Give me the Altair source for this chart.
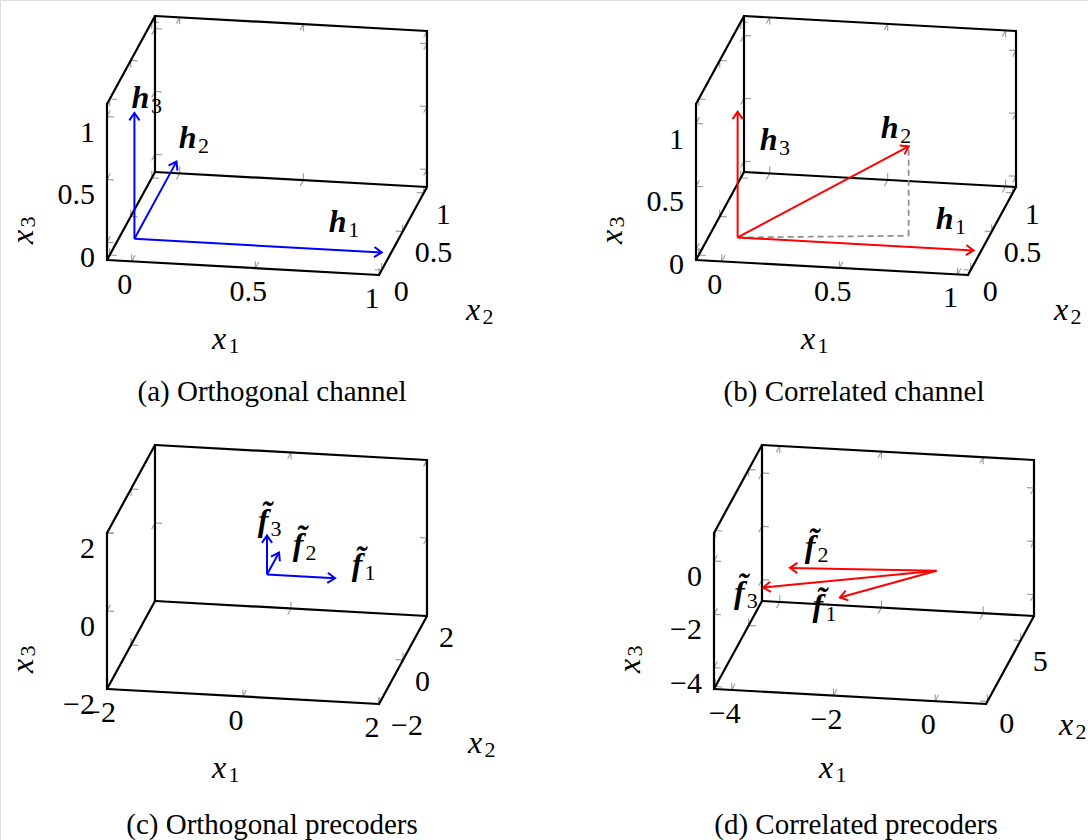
import numpy as np
import pandas as pd
import altair as alt

W, H = 1088, 840

# ---- 3D box geometry: screen direction of each axis edge and the front-bottom-left corner
EDGE = np.array([[272.0, 15.0], [48.0, -88.0], [0.0, -156.0]])
PANELS = ["a", "b", "c", "d"]
BOX_ORIGIN = {"a": (107, 260), "b": (696, 260), "c": (107, 689), "d": (714, 689)}

# ---- axis limits and ticks
X1_LIM = {"a": (-0.10, 1.00), "b": (-0.109, 1.044), "c": (-2.0, 2.0), "d": (-4.35, 1.0)}
X2_LIM = {"a": (-0.064, 1.076), "b": (-0.064, 1.076), "c": (-2.0, 2.0), "d": (-0.2, 7.0)}
X3_LIM = {"a": (-0.14, 1.10), "b": (-0.085, 1.155), "c": (-2.0, 2.0), "d": (-4.8, 1.05)}

X1_TICKS = {"a": [0, 0.5, 1], "b": [0, 0.5, 1], "c": [-2, 0, 2], "d": [-4, -2, 0]}
X2_TICKS = {"a": [0, 0.5, 1], "b": [0, 0.5, 1], "c": [-2, 0, 2], "d": [0, 5]}
X3_TICKS = {"a": [0, 0.5, 1], "b": [0, 0.5, 1], "c": [-2, 0, 2], "d": [-4, -2, 0]}

CAPTIONS = {"a": "(a) Orthogonal channel", "b": "(b) Correlated channel",
            "c": "(c) Orthogonal precoders", "d": "(d) Correlated precoders"}
CAPTION_POS = {"a": (272, 392), "b": (854, 392), "c": (272, 825), "d": (856, 825)}
X2_TITLE_SHIFT = {"a": (70, 79), "b": (69, 79), "c": (72, 83), "d": (56, 65)}

# ---- vectors (tail + components)
VEC_PANEL = ["a", "a", "a", "b", "b", "b", "c", "c", "c", "d", "d", "d"]
VEC_SYMBOL = ["h", "h", "h", "h", "h", "h", "f\u0303", "f\u0303", "f\u0303", "f\u0303", "f\u0303", "f\u0303"]
VEC_INDEX = ["1", "2", "3", "1", "2", "3", "1", "2", "3", "1", "2", "3"]
TAIL_X1 = [0, 0, 0, 0.056, 0.056, 0.056, 0, 0, 0, 0, 0, 0]
TAIL_X2 = [0, 0, 0, 0, 0, 0, 0, 0, 0, 0, 0, 0]
TAIL_X3 = [0, 0, 0, 0.072, 0.072, 0.072, 0, 0, 0, 0, 0, 0]
VEC_X1 = [1, 0, 0, 1.0, 0.70, 0, 1, 0, 0, -1.9, -3.8, -4.3]
VEC_X2 = [0, 1, 0, 0.0, 0.14, 0, 0, 1, 0, 0.0, 7.0, 6.8]
VEC_X3 = [0, 0, 1, 0.0, 0.71, 1, 0, 0, 1, -1.2, -3.5, -4.2]
VEC_COLOR = ["#0000ff"] * 3 + ["#ff0000"] * 3 + ["#0000ff"] * 3 + ["#ff0000"] * 3
# label placement relative to the arrow tip (pixels)
LABEL_DX = [-44, 11, 6, -29, -19, 31, 22, 19, -4, -22, 20, -24]
LABEL_DY = [-30, -24, -15, -31, -18, 28, -13, -8, -15, 9, -21, 5]

SERIF = "Liberation Serif"
TICK_FONT = 30
GRAY = "#999999"


def lims(p):
    return [X1_LIM[p], X2_LIM[p], X3_LIM[p]]


def proj(p, pt):
    s = np.array(BOX_ORIGIN[p], float)
    for i, (lo, hi) in enumerate(lims(p)):
        s = s + (pt[i] - lo) / (hi - lo) * EDGE[i]
    return s


def fmt(v):
    return ("%g" % v).replace("-", "\u2212")


# box edges that belong to the three back planes (floor, left wall, back wall)
EDGE_SIDES = {0: [(0, 0), (1, 0), (1, 1)], 1: [(0, 0), (1, 0), (0, 1)], 2: [(0, 0), (0, 1), (1, 1)]}

edge_rows, tick_rows = [], []
lab_rows = {"center": [], "left": [], "right": []}
title_rows, sub_rows, title_rot, sub_rot = [], [], [], []
for p in PANELS:
    L = lims(p)
    ticks = [X1_TICKS[p], X2_TICKS[p], X3_TICKS[p]]
    for ax in range(3):
        others = [b for b in range(3) if b != ax]
        for sides in EDGE_SIDES[ax]:
            a = [0, 0, 0]
            b = [0, 0, 0]
            for o, sd in zip(others, sides):
                a[o] = L[o][sd]
                b[o] = L[o][sd]
            a[ax], b[ax] = L[ax]
            pa, pb = proj(p, a), proj(p, b)
            edge_rows.append(dict(x=pa[0], y=pa[1], x2=pb[0], y2=pb[1]))
            for t in ticks[ax]:
                pt = list(a)
                pt[ax] = t
                s = proj(p, pt)
                for o, sd in zip(others, sides):
                    d = EDGE[o] / np.linalg.norm(EDGE[o]) * (1 if sd == 0 else -1)
                    e = s + 7 * d
                    tick_rows.append(dict(x=s[0], y=s[1], x2=e[0], y2=e[1]))
    for t in X1_TICKS[p]:
        s = proj(p, [t, L[1][0], L[2][0]])
        lab_rows["center"].append(dict(x=s[0] - 7, y=s[1] + 24, text=fmt(t)))
    for t in X2_TICKS[p]:
        s = proj(p, [L[0][1], t, L[2][0]])
        lab_rows["left"].append(dict(x=s[0] + 12, y=s[1] + 22, text=fmt(t)))
    for t in X3_TICKS[p]:
        s = proj(p, [L[0][0], L[1][0], t])
        lab_rows["right"].append(dict(x=s[0] - 12, y=s[1] + 16, text=fmt(t)))
    # axis titles
    m1 = proj(p, [sum(L[0]) / 2, L[1][0], L[2][0]]) + np.array([-24, 71])
    title_rows.append(dict(x=m1[0], y=m1[1], text="x"))
    sub_rows.append(dict(x=m1[0] + 15, y=m1[1] + 7, text="1"))
    m2 = proj(p, [L[0][1], sum(L[1]) / 2, L[2][0]]) + np.array(X2_TITLE_SHIFT[p])
    title_rows.append(dict(x=m2[0], y=m2[1], text="x"))
    sub_rows.append(dict(x=m2[0] + 15, y=m2[1] + 7, text="2"))
    m3 = proj(p, [L[0][0], L[1][0], sum(L[2]) / 2]) + np.array([-84, 55])
    title_rot.append(dict(x=m3[0], y=m3[1], text="x"))
    sub_rot.append(dict(x=m3[0] + 5, y=m3[1] - 15, text="3"))

shaft_rows, head_rows, vlab_rows, vsub_rows, dash_rows = [], [], [], [], []
for k in range(len(VEC_PANEL)):
    p = VEC_PANEL[k]
    tail = np.array([TAIL_X1[k], TAIL_X2[k], TAIL_X3[k]], float)
    tipv = tail + np.array([VEC_X1[k], VEC_X2[k], VEC_X3[k]], float)
    s0, s1 = proj(p, tail), proj(p, tipv)
    col = VEC_COLOR[k]
    shaft_rows.append(dict(x=s0[0], y=s0[1], x2=s1[0], y2=s1[1], c=col))
    u = (s1 - s0) / np.linalg.norm(s1 - s0)
    for side, ang in enumerate([0.6, -0.6]):
        rot = np.array([[np.cos(ang), -np.sin(ang)], [np.sin(ang), np.cos(ang)]])
        b = s1 - 9 * (rot @ u)
        head_rows.append(dict(x=b[0], y=b[1], c=col, id=k, o=0 if side == 0 else 2))
    head_rows.append(dict(x=s1[0], y=s1[1], c=col, id=k, o=1))
    lx, ly = s1[0] + LABEL_DX[k], s1[1] + LABEL_DY[k]
    vlab_rows.append(dict(x=lx, y=ly, text=VEC_SYMBOL[k]))
    is_h = VEC_SYMBOL[k] == "h"
    vsub_rows.append(dict(x=lx + (16 if is_h else 13), y=ly + 8, text=VEC_INDEX[k]))
    if p == "b" and VEC_INDEX[k] == "2":
        foot = tail + np.array([VEC_X1[k], VEC_X2[k], 0.0])
        f = proj(p, foot)
        dash_rows.append(dict(x=s0[0], y=s0[1], x2=f[0], y2=f[1]))
        dash_rows.append(dict(x=f[0], y=f[1], x2=s1[0], y2=s1[1]))

cap_rows = [dict(x=CAPTION_POS[p][0], y=CAPTION_POS[p][1], text=CAPTIONS[p]) for p in PANELS]

xs = alt.Scale(domain=[0, W], nice=False, zero=False)
ys = alt.Scale(domain=[H, 0], nice=False, zero=False)


def X(f="x"):
    return alt.X(f"{f}:Q", scale=xs, axis=None)


def Y(f="y"):
    return alt.Y(f"{f}:Q", scale=ys, axis=None)


def rules(rows, **kw):
    return alt.Chart(pd.DataFrame(rows)).mark_rule(**kw).encode(
        x=X(), y=Y(), x2="x2:Q", y2="y2:Q")


def texts(rows, **kw):
    return alt.Chart(pd.DataFrame(rows)).mark_text(font=SERIF, baseline="middle", **kw).encode(
        x=X(), y=Y(), text="text:N")


ticks_l = rules(tick_rows, color=GRAY, strokeWidth=1.1)
edges_l = rules(edge_rows, color="black", strokeWidth=2.2, strokeCap="round")
dash_l = rules(dash_rows, color="#8c8c8c", strokeWidth=1.7, strokeDash=[6, 4])
shaft_l = alt.Chart(pd.DataFrame(shaft_rows)).mark_rule(strokeWidth=2).encode(
    x=X(), y=Y(), x2="x2:Q", y2="y2:Q", color=alt.Color("c:N", scale=None))
head_l = alt.Chart(pd.DataFrame(head_rows)).mark_line(strokeWidth=2, strokeJoin="miter").encode(
    x=X(), y=Y(), detail="id:N", order="o:Q", color=alt.Color("c:N", scale=None))

lab_c = texts(lab_rows["center"], align="center", fontSize=TICK_FONT)
lab_l = texts(lab_rows["left"], align="left", fontSize=TICK_FONT)
lab_r = texts(lab_rows["right"], align="right", fontSize=TICK_FONT)
title_l = texts(title_rows, align="center", fontSize=32, fontStyle="italic")
sub_l = texts(sub_rows, align="center", fontSize=22)
title_rl = texts(title_rot, align="center", fontSize=32, fontStyle="italic", angle=270)
sub_rl = texts(sub_rot, align="center", fontSize=22, angle=270)
vlab_l = texts(vlab_rows, align="center", fontSize=32, fontStyle="italic", fontWeight="bold")
vsub_l = texts(vsub_rows, align="center", fontSize=22)
cap_l = texts(cap_rows, align="center", fontSize=29)

chart = alt.layer(
    ticks_l, edges_l, dash_l, shaft_l, head_l,
    lab_c, lab_l, lab_r, title_l, sub_l, title_rl, sub_rl,
    vlab_l, vsub_l, cap_l,
).properties(width=W, height=H, autosize=alt.AutoSizeParams(type="none"), padding=0
).configure_view(stroke=None).configure(background="white")

chart.save("out.html", embed_options={"renderer": "svg", "actions": False})
